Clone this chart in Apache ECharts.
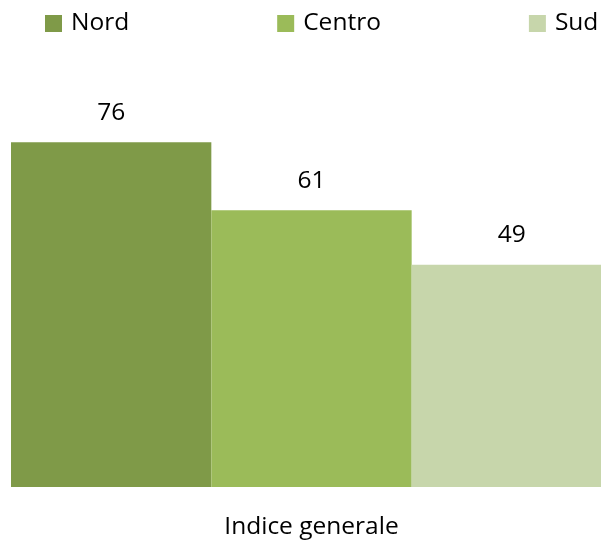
<!DOCTYPE html>
<html>
<head>
<meta charset="utf-8">
<script src="https://cdn.jsdelivr.net/npm/echarts@6/dist/echarts.min.js"></script>
<style>html,body{margin:0;padding:0;background:#fff}#c{width:601px;height:540px}</style>
</head>
<body>
<div id="c"></div>
<script>
var categories = ['Indice generale'];
var seriesNames = ['Nord', 'Centro', 'Sud'];
var nordValues = [76];
var centroValues = [61];
var sudValues = [49];
var colors = ['#7f9a48', '#9bbb59', '#c7d6ab'];

var FONT = '"Open Sans", sans-serif';
var allValues = [nordValues, centroValues, sudValues];
var chart = echarts.init(document.getElementById('c'), null, {renderer: 'canvas'});
chart.setOption({
  animation: false,
  color: colors,
  legend: {
    data: seriesNames,
    left: 45,
    top: 11,
    width: 700,
    padding: 0,
    itemWidth: 17,
    itemHeight: 17,
    itemGap: 148,
    icon: 'rect',
    textStyle: {fontFamily: FONT, fontSize: 24.5, color: '#000', lineHeight: 25, padding: [0, 0, 0, 4]}
  },
  grid: {left: 11, width: 601, top: 124, bottom: 53, outerBoundsMode: 'none', containLabel: false},
  xAxis: {
    type: 'category',
    data: categories,
    axisLine: {show: false},
    axisTick: {show: false},
    axisLabel: {fontFamily: FONT, fontSize: 24.5, color: '#000', margin: 28}
  },
  yAxis: {type: 'value', min: 0, max: 80, show: false, splitLine: {show: false}},
  series: seriesNames.map(function (n, i) {
    return {
      name: n,
      type: 'bar',
      data: allValues[i],
      barGap: '0%',
      barCategoryGap: '0%',
      label: {show: true, position: 'top', distance: 17, fontFamily: FONT, fontSize: 24.5, color: '#000'}
    };
  })
});
</script>
</body>
</html>
